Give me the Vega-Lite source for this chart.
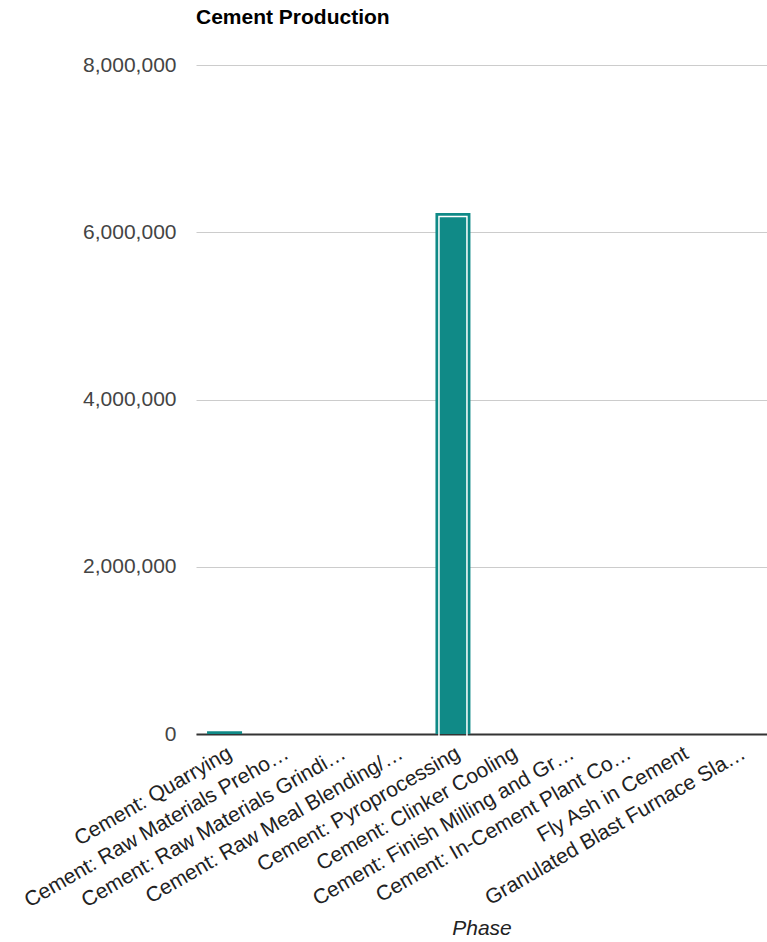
{
  "$schema": "https://vega.github.io/schema/vega-lite/v6.json",
  "width": 571,
  "height": 669,
  "autosize": "none",
  "padding": {"left": 196, "top": 65, "right": 0, "bottom": 208},
  "background": "white",
  "title": {"text": "Cement Production", "anchor": "start", "frame": "group", "font": "Liberation Sans", "fontSize": 21, "fontWeight": "bold", "color": "#000000", "offset": 26},
  "data": {"values": [
    {"Phase": "Cement: Quarrying", "Value": 32000},
    {"Phase": "Cement: Raw Materials Prehomogenization", "Value": 0},
    {"Phase": "Cement: Raw Materials Grinding", "Value": 0},
    {"Phase": "Cement: Raw Meal Blending/Homogenization", "Value": 0},
    {"Phase": "Cement: Pyroprocessing", "Value": 6230000},
    {"Phase": "Cement: Clinker Cooling", "Value": 0},
    {"Phase": "Cement: Finish Milling and Grinding", "Value": 0},
    {"Phase": "Cement: In-Cement Plant Conveying", "Value": 0},
    {"Phase": "Fly Ash in Cement", "Value": 0},
    {"Phase": "Granulated Blast Furnace Slag in Cement", "Value": 0}
  ]},
  "encoding": {
    "x": {
      "field": "Phase", "type": "nominal", "sort": null,
      "scale": {"paddingInner": 0.4, "paddingOuter": 0.2},
      "axis": {
        "title": "Phase", "titleFont": "Liberation Sans", "titleFontSize": 21, "titleFontStyle": "italic", "titleFontWeight": "normal", "titleColor": "#222222",
        "titleY": 200, "titleBaseline": "alphabetic",
        "labelAngle": -30, "labelAlign": "right", "labelBaseline": "top", "labelFont": "Liberation Sans", "labelFontSize": 21, "labelColor": "#222222",
        "labelLimit": 301.6, "labelPadding": 8, "labelOverlap": false,
        "ticks": false, "domainColor": "#333333", "domainWidth": 2, "grid": false
      }
    },
    "y": {
      "field": "Value", "type": "quantitative",
      "scale": {"domain": [0, 8000000]},
      "axis": {
        "title": null, "values": [0, 2000000, 4000000, 6000000, 8000000], "format": ",.0f",
        "labelFont": "Liberation Sans", "labelFontSize": 21, "labelColor": "#444444", "labelPadding": 20,
        "ticks": false, "domain": false, "gridColor": "#cccccc", "gridWidth": 1
      }
    }
  },
  "layer": [
    {"mark": {"type": "bar", "color": "#108a87", "size": 35}},
    {
      "transform": [{"filter": "datum.Phase == 'Cement: Pyroprocessing'"}],
      "mark": {"type": "bar", "filled": false, "color": "white", "strokeWidth": 1.5, "size": 28, "yOffset": 3.5, "y2Offset": -3.5}
    }
  ],
  "config": {"view": {"stroke": null}}
}
